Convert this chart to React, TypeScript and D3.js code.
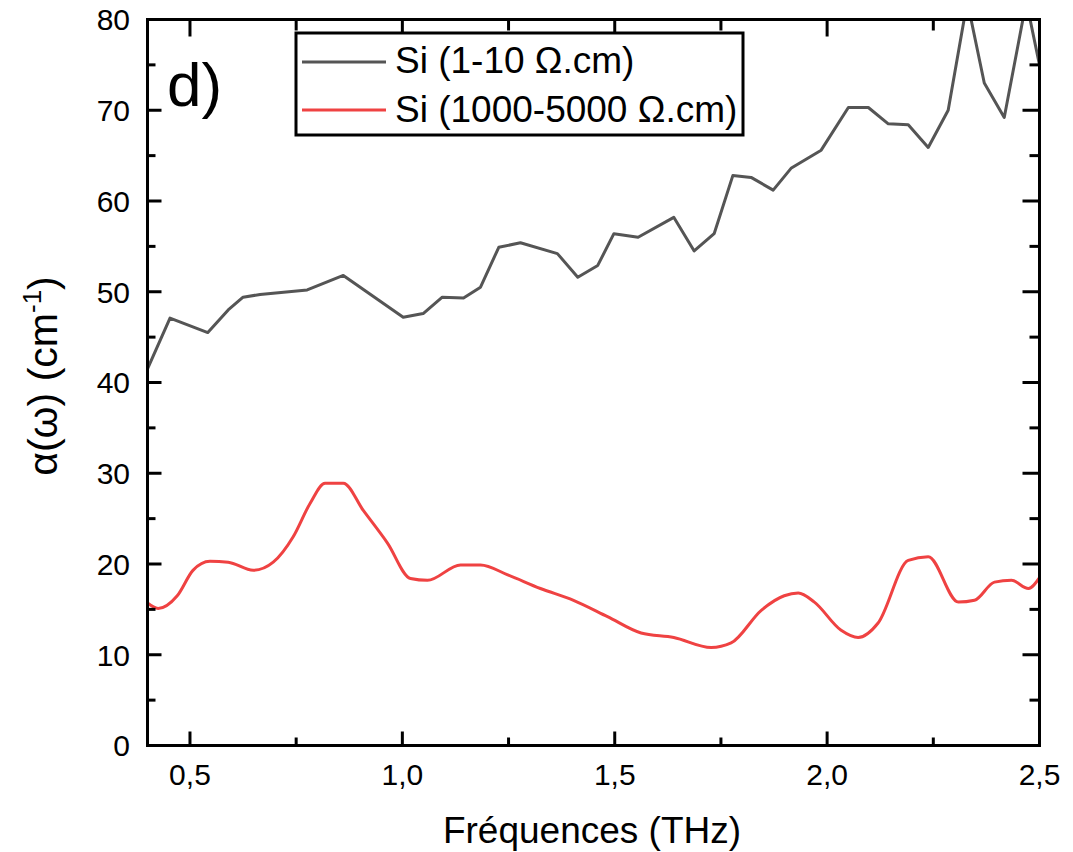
import React from "react";
import * as d3 from "d3";

const blackFreq = [0.40, 0.453, 0.542, 0.59, 0.625, 0.665, 0.776, 0.861, 1.002, 1.049, 1.094, 1.144, 1.184, 1.227, 1.278, 1.365, 1.413, 1.46, 1.498, 1.555, 1.639, 1.687, 1.734, 1.778, 1.821, 1.873, 1.915, 1.986, 2.05, 2.097, 2.144, 2.191, 2.238, 2.285, 2.33, 2.37, 2.417, 2.469, 2.5];
const blackVals = [41.5, 47.1, 45.5, 48.0, 49.4, 49.7, 50.2, 51.8, 47.2, 47.6, 49.4, 49.3, 50.5, 54.9, 55.4, 54.2, 51.6, 52.9, 56.4, 56.0, 58.2, 54.5, 56.4, 62.8, 62.6, 61.2, 63.6, 65.6, 70.3, 70.3, 68.5, 68.4, 65.9, 70.0, 82.0, 73.0, 69.2, 82.0, 75.0];

const redFreq = [0.40, 0.425, 0.47, 0.507, 0.547, 0.59, 0.649, 0.696, 0.743, 0.783, 0.818, 0.861, 0.908, 0.965, 1.019, 1.059, 1.137, 1.184, 1.248, 1.325, 1.403, 1.483, 1.562, 1.639, 1.727, 1.774, 1.845, 1.899, 1.932, 1.97, 2.033, 2.073, 2.12, 2.191, 2.238, 2.309, 2.347, 2.394, 2.434, 2.474, 2.5];
const redVals = [15.7, 15.1, 16.5, 19.3, 20.3, 20.2, 19.3, 20.2, 23.0, 26.7, 28.9, 28.9, 25.9, 22.3, 18.4, 18.2, 19.9, 19.9, 18.8, 17.3, 16.0, 14.2, 12.4, 11.9, 10.8, 11.3, 14.9, 16.5, 16.8, 15.8, 12.7, 11.9, 13.5, 20.4, 20.8, 15.8, 16.0, 18.0, 18.2, 17.3, 18.5];

const xMajor = [0.5, 1.0, 1.5, 2.0, 2.5];
const xMajorLabels = ["0,5", "1,0", "1,5", "2,0", "2,5"];
const xMinor = [0.75, 1.25, 1.75, 2.25];
const yMajor = [0, 10, 20, 30, 40, 50, 60, 70, 80];
const yMinor = [5, 15, 25, 35, 45, 55, 65, 75];

const legendLabels = ["Si (1-10 \u03A9.cm)", "Si (1000-5000 \u03A9.cm)"];
const seriesColors = ["#555555", "#ef4242"];

const FONT = "'Liberation Sans', Arial, Helvetica, sans-serif";

export default function App() {
  const L = 147.5, R = 1039.5, T = 19.5, B = 745.5;
  const x = d3.scaleLinear().domain([0.4, 2.5]).range([L, R]);
  const y = d3.scaleLinear().domain([0, 80]).range([B, T]);

  const blackData = blackFreq.map((f, i) => [f, blackVals[i]] as [number, number]);
  const redData = redFreq.map((f, i) => [f, redVals[i]] as [number, number]);

  const lineLin = d3.line<[number, number]>().x(d => x(d[0])).y(d => y(d[1]));
  const lineSmooth = d3.line<[number, number]>().x(d => x(d[0])).y(d => y(d[1])).curve(d3.curveMonotoneX);

  return (
    <svg width={1073} height={852} style={{ position: "absolute", left: 0, top: 0, background: "#fff" }} fontFamily={FONT}>
      <defs>
        <clipPath id="plotClip">
          <rect x={L} y={T} width={R - L} height={B - T} />
        </clipPath>
      </defs>
      <rect x={0} y={0} width={1073} height={852} fill="#fff" />

      <g clipPath="url(#plotClip)">
        <path d={lineLin(blackData) || ""} fill="none" stroke={seriesColors[0]} strokeWidth={3} strokeLinejoin="round" />
        <path d={lineSmooth(redData) || ""} fill="none" stroke={seriesColors[1]} strokeWidth={3} strokeLinejoin="round" />
      </g>

      {/* ticks */}
      <g stroke="#000" strokeWidth={3}>
        {xMajor.map(v => (
          <g key={"xM" + v}>
            <line x1={x(v)} x2={x(v)} y1={B} y2={B - 14} />
            <line x1={x(v)} x2={x(v)} y1={T} y2={T + 17} />
          </g>
        ))}
        {xMinor.map(v => (
          <g key={"xm" + v}>
            <line x1={x(v)} x2={x(v)} y1={B} y2={B - 8} />
            <line x1={x(v)} x2={x(v)} y1={T} y2={T + 11} />
          </g>
        ))}
        {yMajor.map(v => (
          <g key={"yM" + v}>
            <line x1={L} x2={L + 14} y1={y(v)} y2={y(v)} />
            <line x1={R} x2={R - 17} y1={y(v)} y2={y(v)} />
          </g>
        ))}
        {yMinor.map(v => (
          <g key={"ym" + v}>
            <line x1={L} x2={L + 8} y1={y(v)} y2={y(v)} />
            <line x1={R} x2={R - 10} y1={y(v)} y2={y(v)} />
          </g>
        ))}
      </g>

      {/* frame */}
      <rect x={L} y={T} width={R - L} height={B - T} fill="none" stroke="#000" strokeWidth={3} />

      {/* tick labels */}
      <g fontSize={30} fill="#000">
        {yMajor.map(v => (
          <text key={"yl" + v} x={130} y={y(v)} dy="0.36em" textAnchor="end">{v}</text>
        ))}
        {xMajor.map((v, i) => (
          <text key={"xl" + v} x={x(v)} y={785} textAnchor="middle">{xMajorLabels[i]}</text>
        ))}
      </g>

      {/* axis titles */}
      <text x={592} y={843} fontSize={37} textAnchor="middle" fill="#000">Fréquences (THz)</text>
      <text transform={`translate(57, ${376}) rotate(-90)`} fontSize={41} textAnchor="middle" fill="#000">
        α(ω) (cm<tspan fontSize={26} dy={-16}>-1</tspan><tspan dy={16}>)</tspan>
      </text>

      {/* panel label */}
      <text x={167} y={106} fontSize={62} fill="#000">d)</text>

      {/* legend */}
      <rect x={296} y={33} width={447} height={102} fill="#fff" stroke="#000" strokeWidth={3} />
      {legendLabels.map((lab, i) => (
        <g key={lab}>
          <line x1={302} x2={386} y1={62 + i * 48} y2={62 + i * 48} stroke={seriesColors[i]} strokeWidth={3} />
          <text x={395} y={73 + i * 49} fontSize={37} fill="#000">{lab}</text>
        </g>
      ))}
    </svg>
  );
}
